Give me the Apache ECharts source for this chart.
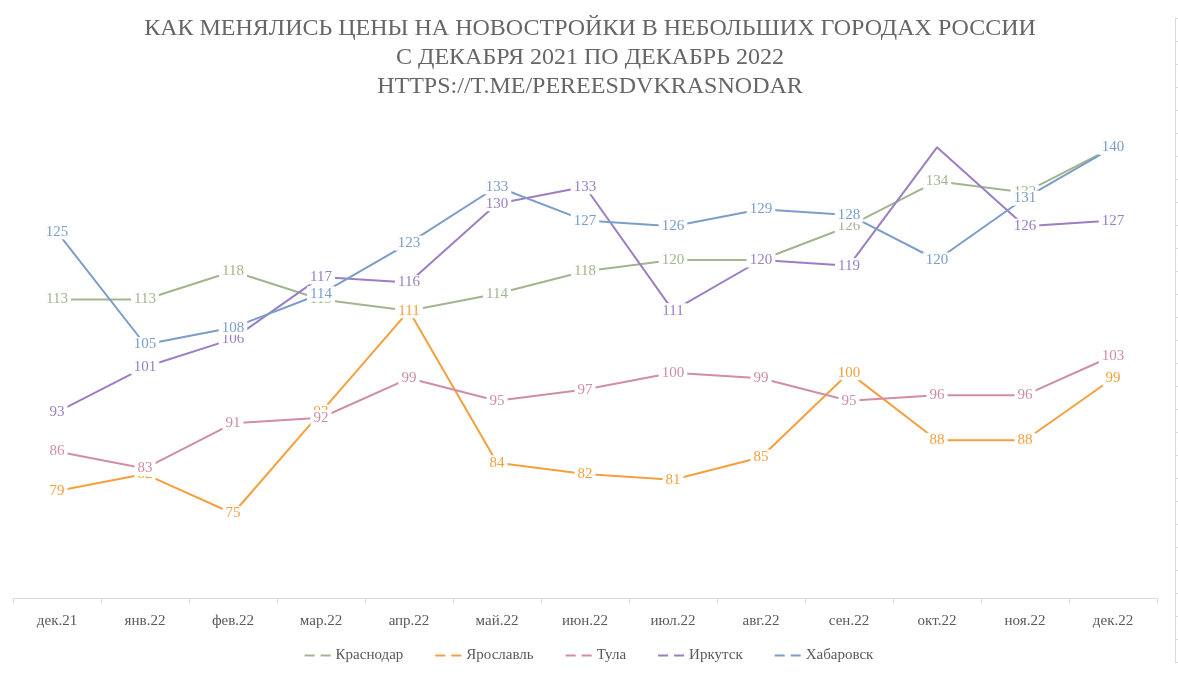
<!DOCTYPE html>
<html><head><meta charset="utf-8">
<script src="https://cdn.jsdelivr.net/npm/echarts@6/dist/echarts.min.js"></script>
<style>html,body{margin:0;padding:0;background:#fff}#c{width:1178px;height:675px}</style>
</head><body><div id="c"></div>
<script>
const categories = ['дек.21','янв.22','фев.22','мар.22','апр.22','май.22','июн.22','июл.22','авг.22','сен.22','окт.22','ноя.22','дек.22'];
const krasnodar = [113,113,118,113,111,114,118,120,120,126,134,132,140];
const yaroslavl = [79,82,75,93,111,84,82,81,85,100,88,88,99];
const tula = [86,83,91,92,99,95,97,100,99,95,96,96,103];
const irkutsk = [93,101,106,117,116,130,133,111,120,119,140,126,127];
const khabarovsk = [125,105,108,114,123,133,127,126,129,128,120,131,140];
const seriesNames = ['Краснодар','Ярославль','Тула','Иркутск','Хабаровск'];
const colors = ['#A2B58E','#F4A03E','#D08EA4','#9C7EC2','#7B9DC7'];
const hiddenLabels = {3: [10]}; // Иркутск окт.22 label not shown

const FONT = '"Liberation Serif","DejaVu Serif",serif';
const all = [krasnodar, yaroslavl, tula, irkutsk, khabarovsk];
const series = all.map((arr, i) => ({
  name: seriesNames[i], type: 'line', data: arr.map((v, j) => {
    if (hiddenLabels[i] && hiddenLabels[i].includes(j)) return {value: v, label: {show: false}};
    return v;
  }),
  xAxisIndex: 0, yAxisIndex: 0,
  symbol: 'circle', symbolSize: 1, showSymbol: true,
  lineStyle: {color: colors[i], width: 2},
  itemStyle: {color: colors[i]},
  label: {show: true, position: 'inside', color: colors[i], fontFamily: FONT, fontSize: 15,
    backgroundColor: '#fff', padding: [0, 3]},
  emphasis: {disabled: true}, animation: false, z: 2 + i
}));
// decorative right-edge axis (fragment visible at the right of the reference)
series.push({type: 'line', data: [], xAxisIndex: 1, yAxisIndex: 1, silent: true});

const chart = echarts.init(document.getElementById('c'), null, {renderer: 'canvas'});
chart.setOption({
  animation: false,
  color: colors,
  title: {
    text: 'КАК МЕНЯЛИСЬ ЦЕНЫ НА НОВОСТРОЙКИ В НЕБОЛЬШИХ ГОРОДАХ РОССИИ\nС ДЕКАБРЯ 2021 ПО ДЕКАБРЬ 2022\nHTTPS://T.ME/PEREESDVKRASNODAR',
    left: 585, top: 9, textAlign: 'center',
    textStyle: {color: '#666666', fontFamily: FONT, fontSize: 24, fontWeight: 'normal', lineHeight: 29}
  },
  legend: {
    data: seriesNames, bottom: 7, left: 'center', itemGap: 32,
    icon: 'path://M0,0h10v2h-10z M16,0h10v2h-10z', itemWidth: 26, itemHeight: 2,
    textStyle: {color: '#595959', fontFamily: FONT, fontSize: 15}
  },
  grid: [
    {left: 13, right: 21, top: 91, bottom: 77},
    {left: 1175, right: 3, top: 18, height: 644}
  ],
  xAxis: [
    {type: 'category', data: categories, gridIndex: 0, boundaryGap: true,
     axisLine: {lineStyle: {color: '#D9D9D9', width: 1}},
     axisTick: {show: true, length: 5, lineStyle: {color: '#D9D9D9'}},
     axisLabel: {color: '#595959', fontFamily: FONT, fontSize: 15, margin: 16}},
    {type: 'value', gridIndex: 1, show: false}
  ],
  yAxis: [
    {type: 'value', gridIndex: 0, min: 60, max: 150, show: false, splitLine: {show: false}},
    {type: 'value', gridIndex: 1, min: 0, max: 28, interval: 1, position: 'left',
     axisLine: {show: true, lineStyle: {color: '#D9D9D9'}},
     axisTick: {show: true, inside: true, length: 3, lineStyle: {color: '#D9D9D9'}},
     axisLabel: {show: false}, splitLine: {show: false}}
  ],
  series: series
});
</script></body></html>
